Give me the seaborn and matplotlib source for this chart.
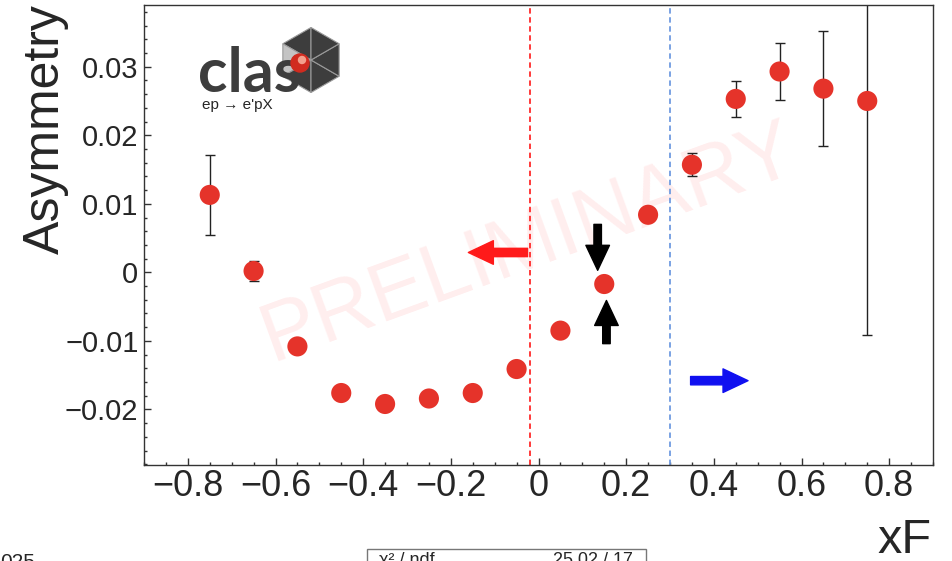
"""
Asymmetry vs xF (CLAS preliminary) recreated with seaborn.
"""

import numpy as np
import pandas as pd
import matplotlib.pyplot as plt
import matplotlib.patches as mpatches
from matplotlib.ticker import MultipleLocator
import seaborn as sns

# bin centres in xF and measured asymmetry
xf = [-0.75, -0.65, -0.55, -0.45, -0.35, -0.25, -0.15, -0.05,
      0.05, 0.15, 0.25, 0.35, 0.45, 0.55, 0.65, 0.75]
asymmetry = [0.0113, 0.0002, -0.0108, -0.0176, -0.0192, -0.0184, -0.0176, -0.0141,
             -0.0085, -0.0017, 0.0084, 0.0157, 0.0253, 0.0293, 0.0268, 0.0250]
asym_err = [0.0058, 0.0015, 0.0008, 0.0007, 0.0007, 0.0007, 0.0007, 0.0007,
            0.0007, 0.0008, 0.0009, 0.0017, 0.0026, 0.0041, 0.0084, 0.0342]

x_ticks = [-0.8, -0.6, -0.4, -0.2, 0.0, 0.2, 0.4, 0.6, 0.8]
x_tick_labels = ["\u22120.8", "\u22120.6", "\u22120.4", "\u22120.2", "0", "0.2", "0.4", "0.6", "0.8"]
y_ticks = [-0.02, -0.01, 0.0, 0.01, 0.02, 0.03]
y_tick_labels = ["\u22120.02", "\u22120.01", "0", "0.01", "0.02", "0.03"]

x_cut_target = -0.02
x_cut_current = 0.3

df = pd.DataFrame({"xF": xf, "asym": asymmetry, "err": asym_err})

sns.set_theme(style="ticks")
plt.rcParams["font.family"] = ["Liberation Sans", "DejaVu Sans"]

W, H = 953, 561


def fpos(px, py):
    """pixel position -> figure fraction"""
    return px / W, 1 - py / H


fig = plt.figure(figsize=(W / 100, H / 100), dpi=100)
ax = fig.add_axes([144 / W, 1 - 465 / H, (933 - 144) / W, 460 / H])

ax.axvline(x_cut_target, color="#ff2a2a", lw=1.3, ls=(0, (3, 2)), zorder=1)
ax.axvline(x_cut_current, color="#6f9be0", lw=1.3, ls=(0, (3, 2)), zorder=1)

ax.errorbar(df["xF"], df["asym"], yerr=df["err"], fmt="none", ecolor="#222222",
            elinewidth=1, capsize=3.5, capthick=1, zorder=2)
sns.scatterplot(data=df, x="xF", y="asym", s=210, color="#e5332a",
                edgecolor="none", linewidth=0, zorder=3, ax=ax)

ax.set_xlim(-0.9, 0.9)
ax.set_ylim(-0.0281, 0.039)
ax.set_xticks(x_ticks, x_tick_labels, fontsize=26)
ax.set_yticks(y_ticks, y_tick_labels, fontsize=21)
ax.xaxis.set_minor_locator(MultipleLocator(0.05))
ax.yaxis.set_minor_locator(MultipleLocator(0.002))
ax.tick_params(which="both", direction="in", top=False, right=False,
               bottom=True, left=True, color="#333333", width=1)
ax.tick_params(which="major", length=5)
ax.tick_params(which="minor", length=2.5)
ax.tick_params(axis="x", which="major", pad=3)
ax.tick_params(axis="y", which="major", pad=4)
ax.set_xlabel("")
ax.set_ylabel("")
for sp in ax.spines.values():
    sp.set_color("#333333")
    sp.set_linewidth(1)

# watermark
ax.text(-0.022, 0.0042, "PRELIMINARY", fontsize=60, color="#ff0000", alpha=0.07,
        rotation=20, ha="center", va="center", zorder=0)

# arrows
arrow_kw = dict(shrinkA=0, shrinkB=0, mutation_scale=20)
ax.annotate("", xy=(-0.16, 0.0029), xytext=(-0.025, 0.0029),
            arrowprops=dict(arrowstyle="simple,head_length=0.9,head_width=0.85,tail_width=0.3",
                            color="#ff1a1a", **arrow_kw))
ax.annotate("", xy=(0.135, 0.0003), xytext=(0.135, 0.0070),
            arrowprops=dict(arrowstyle="simple,head_length=0.9,head_width=0.85,tail_width=0.27",
                            color="black", **arrow_kw))
ax.annotate("", xy=(0.155, -0.0041), xytext=(0.155, -0.0104),
            arrowprops=dict(arrowstyle="simple,head_length=0.9,head_width=0.85,tail_width=0.27",
                            color="black", **arrow_kw))
ax.annotate("", xy=(0.478, -0.0158), xytext=(0.347, -0.0158),
            arrowprops=dict(arrowstyle="simple,head_length=0.9,head_width=0.85,tail_width=0.3",
                            color="#1010f0", **arrow_kw))

# axis titles (ROOT style, at the far ends)
fig.text(*fpos(46, 4), "Asymmetry", fontsize=36, rotation=90, ha="center", va="top")
fig.text(*fpos(932, 553), "xF", fontsize=35, ha="right", va="baseline")

# clas logo
lax = fig.add_axes([185 / W, 1 - 115 / H, 160 / W, 100 / H])
lax.set_xlim(185, 345)
lax.set_ylim(115, 15)
lax.axis("off")
cx, cy, r = 311, 60, 32.5
ang = np.deg2rad([90, 150, 210, 270, 330, 30, 90])
verts = [(cx + r * np.cos(a), cy - r * np.sin(a)) for a in ang]
for i in range(6):
    col = "#c4c4c4" if i == 1 else "#3d3d3d"
    lax.add_patch(mpatches.Polygon([(cx, cy), verts[i], verts[i + 1]], closed=True,
                                   facecolor=col, edgecolor="#9a9a9a", lw=0.8))
lax.text(198, 92, "clas", fontsize=44, family="Lato", fontweight="bold",
         color="#3d3d3d", ha="left", va="baseline", zorder=5)
lax.add_patch(mpatches.Circle((300, 63), 9, color="#d12b1f", zorder=6))
lax.add_patch(mpatches.Circle((302, 60), 3.5, color="#f3a08c", zorder=7))
lax.text(202, 109, "ep \u2192 e'pX", fontsize=11, ha="left", va="baseline")

# cut-off bits at the bottom edge of the screenshot
fig.text(*fpos(0, 553), "025", fontsize=15, ha="left", va="top")
fig.patches.append(mpatches.Rectangle(fpos(367, 600), 279 / W, 51 / H,
                                      transform=fig.transFigure, fill=False,
                                      edgecolor="#777777", lw=1))
fig.text(*fpos(379, 552), "\u03c7\u00b2 / ndf", fontsize=13, ha="left", va="top")
fig.text(*fpos(633, 552), "25.02 / 17", fontsize=13, ha="right", va="top")

plt.savefig("out.png", dpi=100)
print("Saved: out.png")
